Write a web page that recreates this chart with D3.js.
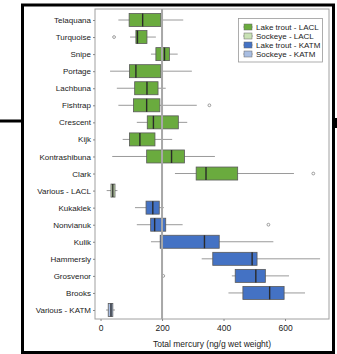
<!DOCTYPE html>
<html>
<head>
<meta charset="utf-8">
<script src="https://cdn.jsdelivr.net/npm/d3@7"></script>
<style>
  body { margin: 0; background: #fff; }
  svg { display: block; font-family: "Liberation Sans", Arial, sans-serif; }
</style>
</head>
<body>
<div id="chart"></div>
<script>
// lakes, top to bottom
const categories = ["Telaquana", "Turquoise", "Snipe", "Portage", "Lachbuna", "Fishtrap", "Crescent", "Kijk",
  "Kontrashibuna", "Clark", "Various - LACL", "Kukaklek", "Nonvianuk", "Kulik", "Hammersly", "Grosvenor",
  "Brooks", "Various - KATM"];
const groups = ["Lake trout - LACL", "Lake trout - LACL", "Lake trout - LACL", "Lake trout - LACL",
  "Lake trout - LACL", "Lake trout - LACL", "Lake trout - LACL", "Lake trout - LACL", "Lake trout - LACL",
  "Lake trout - LACL", "Sockeye - LACL", "Lake trout - KATM", "Lake trout - KATM", "Lake trout - KATM",
  "Lake trout - KATM", "Lake trout - KATM", "Lake trout - KATM", "Sockeye - KATM"];
const whiskerLow  = [58, 96, 164, 31, 53, 58, 118, 72, 38, 242, 20, 112, 118, 164, 329, 427, 416, 18];
const q1          = [93, 115, 180, 94, 111, 107, 152, 94, 150, 311, 34, 148, 163, 194, 365, 438, 463, 25];
const medians     = [137, 120, 208, 115, 151, 150, 172, 128, 231, 343, 40, 170, 176, 338, 493, 505, 550, 34];
const q3          = [196, 151, 224, 196, 187, 193, 253, 177, 273, 446, 47, 191, 212, 386, 509, 536, 597, 40];
const whiskerHigh = [269, 180, 251, 297, 212, 313, 282, 233, 372, 629, 55, 206, 267, 562, 714, 613, 665, 47];
const outlierLakes  = ["Turquoise", "Fishtrap", "Clark", "Nonvianuk", "Grosvenor"];
const outlierValues = [44, 354, 692, 546, 204];
const legendNames = ["Lake trout - LACL", "Sockeye - LACL", "Lake trout - KATM", "Sockeye - KATM"];
const xTicks = [0, 200, 400, 600];
const refValue = 200;

const colors = {
  "Lake trout - LACL": "#6aab3e",
  "Sockeye - LACL": "#c9e2b5",
  "Lake trout - KATM": "#4472c4",
  "Sockeye - KATM": "#a9bee2"
};

const W = 337, H = 354;
const svg = d3.select("#chart").append("svg").attr("width", W).attr("height", H);

// outer page rule + frame
svg.append("rect").attr("x", 0).attr("y", 119.5).attr("width", 23).attr("height", 3).attr("fill", "#000");
svg.append("rect").attr("x", 334).attr("y", 118).attr("width", 3).attr("height", 10).attr("fill", "#000");
svg.append("rect").attr("x", 22.5).attr("y", 5).attr("width", 311).attr("height", 347.5)
  .attr("fill", "#fff").attr("stroke", "#000").attr("stroke-width", 3);

const x = d3.scaleLinear().domain([-18, 743]).range([95, 329]);
const y = d3.scalePoint().domain(categories).range([20, 310]);
const boxH = 13;

// panel
svg.append("rect").attr("x", 95).attr("y", 9).attr("width", 234).attr("height", 310)
  .attr("fill", "none").attr("stroke", "#a0a0a0").attr("stroke-width", 1);

// y axis
const yAxis = svg.append("g").attr("transform", "translate(95,0)")
  .call(d3.axisLeft(y).tickSize(2).tickPadding(2));
yAxis.select(".domain").remove();
yAxis.selectAll("line").attr("stroke", "#888");
yAxis.selectAll("text").attr("font-size", 8).attr("fill", "#222").attr("font-family", "Liberation Sans, Arial, sans-serif");

// x axis
const xAxis = svg.append("g").attr("transform", "translate(0,319)")
  .call(d3.axisBottom(x).tickValues(xTicks).tickSize(2).tickPadding(4));
xAxis.select(".domain").remove();
xAxis.selectAll("line").attr("stroke", "#888");
xAxis.selectAll("text").attr("font-size", 8.5).attr("fill", "#222").attr("font-family", "Liberation Sans, Arial, sans-serif");

svg.append("text").attr("x", (95 + 329) / 2).attr("y", 347).attr("text-anchor", "middle")
  .attr("font-size", 8.5).attr("fill", "#222").text("Total mercury (ng/g wet weight)");

const rows = categories.map((c, i) => ({
  name: c, group: groups[i], lo: whiskerLow[i], q1: q1[i], med: medians[i], q3: q3[i], hi: whiskerHigh[i]
}));

const g = svg.append("g");
g.selectAll(".whisker").data(rows).enter().append("line")
  .attr("x1", d => x(d.lo)).attr("x2", d => x(d.hi))
  .attr("y1", d => y(d.name)).attr("y2", d => y(d.name))
  .attr("stroke", "#9a9a9a").attr("stroke-width", 1);

g.selectAll(".box").data(rows).enter().append("rect")
  .attr("x", d => x(d.q1)).attr("width", d => x(d.q3) - x(d.q1))
  .attr("y", d => y(d.name) - boxH / 2).attr("height", boxH)
  .attr("fill", d => colors[d.group]).attr("stroke", "#5a5a5a").attr("stroke-width", 0.8);

g.selectAll(".median").data(rows).enter().append("line")
  .attr("x1", d => x(d.med)).attr("x2", d => x(d.med))
  .attr("y1", d => y(d.name) - boxH / 2).attr("y2", d => y(d.name) + boxH / 2)
  .attr("stroke", "#2a2a2a").attr("stroke-width", 1.4);

g.selectAll(".outlier").data(outlierLakes.map((c, i) => ({ name: c, v: outlierValues[i] })))
  .enter().append("circle")
  .attr("cx", d => x(d.v)).attr("cy", d => y(d.name)).attr("r", 1.4)
  .attr("fill", "none").attr("stroke", "#777").attr("stroke-width", 0.7);

// reference line
svg.append("line").attr("x1", x(refValue)).attr("x2", x(refValue)).attr("y1", 9).attr("y2", 319)
  .attr("stroke", "#a8a8a8").attr("stroke-width", 2);

// legend
const leg = svg.append("g");
leg.append("rect").attr("x", 238.5).attr("y", 18.5).attr("width", 84).attr("height", 43.5)
  .attr("fill", "#fff").attr("stroke", "#999").attr("stroke-width", 0.8);
const ly = d3.scalePoint().domain(legendNames).range([27, 54]);
legendNames.forEach(n => {
  leg.append("line").attr("x1", 243).attr("x2", 253).attr("y1", ly(n)).attr("y2", ly(n))
    .attr("stroke", "#999").attr("stroke-width", 0.8);
  leg.append("rect").attr("x", 244).attr("y", ly(n) - 3).attr("width", 8).attr("height", 6)
    .attr("fill", colors[n]).attr("stroke", "#666").attr("stroke-width", 0.5);
  leg.append("text").attr("x", 256).attr("y", ly(n)).attr("dy", "0.35em")
    .attr("font-size", 8).attr("fill", "#222").text(n);
});
</script>
</body>
</html>
